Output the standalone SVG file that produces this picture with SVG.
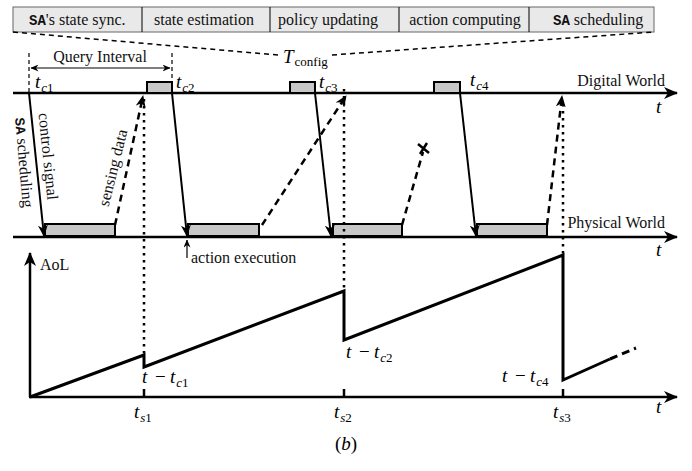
<svg xmlns="http://www.w3.org/2000/svg" width="692" height="471" viewBox="0 0 692 471">
<style>
.lbl{font-family:'Liberation Serif','DejaVu Serif',serif;font-size:16px;fill:#111}
.mono{font-family:'Liberation Mono','DejaVu Sans Mono',monospace;font-weight:bold;font-size:14px}
.m{font-family:'Liberation Serif','DejaVu Serif',serif;font-style:italic;font-size:19px;fill:#000}
.s{font-size:13px}
.u{font-style:normal}
.ln{stroke:#000;fill:none}
.axis{stroke-width:2.5}
.ctrl{stroke-width:2}
.sense{stroke-width:2.5;stroke-dasharray:7 5}
.dot{stroke-width:2.5;stroke-dasharray:2.5 4.5}
.thin{stroke-width:1.2}
.box{fill:#c8c8c8;stroke:#000;stroke-width:2}
.cell{fill:#e9e9e9;stroke:#666;stroke-width:1}
</style>
<defs>
<marker id="big" markerUnits="userSpaceOnUse" viewBox="0 0 14 12" markerWidth="14" markerHeight="12" refX="13" refY="6" orient="auto"><path d="M0,0 L14,6 L0,12 L4,6 z" fill="#000"/></marker>
<marker id="mid" markerUnits="userSpaceOnUse" viewBox="0 0 12 10" markerWidth="12" markerHeight="10" refX="11" refY="5" orient="auto"><path d="M0,0 L12,5 L0,10 L3.5,5 z" fill="#000"/></marker>
<marker id="sm" markerUnits="userSpaceOnUse" viewBox="0 0 8 7" markerWidth="8" markerHeight="7" refX="7.5" refY="3.5" orient="auto"><path d="M0,0 L8,3.5 L0,7 L2.5,3.5 z" fill="#000"/></marker>
<marker id="smS" markerUnits="userSpaceOnUse" viewBox="0 0 8 7" markerWidth="8" markerHeight="7" refX="0.5" refY="3.5" orient="auto"><path d="M8,0 L0,3.5 L8,7 L5.5,3.5 z" fill="#000"/></marker>
</defs>

<g id="pipeline">
<rect class="cell" x="13" y="7" width="641" height="25"/>
<line class="ln" stroke="#666" x1="142" y1="7" x2="142" y2="32"/>
<line class="ln" stroke="#666" x1="270" y1="7" x2="270" y2="32"/>
<line class="ln" stroke="#666" x1="399" y1="7" x2="399" y2="32"/>
<line class="ln" stroke="#666" x1="529" y1="7" x2="529" y2="32"/>
<text class="lbl" x="29" y="25"><tspan class="mono">SA</tspan>'s state sync.</text>
<text class="lbl" x="204" y="25" text-anchor="middle">state estimation</text>
<text class="lbl" x="328" y="25" text-anchor="middle">policy updating</text>
<text class="lbl" x="465" y="25" text-anchor="middle">action computing</text>
<text class="lbl" x="553" y="25"><tspan class="mono">SA</tspan> scheduling</text>
</g>

<g id="tconfig">
<line class="ln" stroke-width="1.5" stroke-dasharray="5 4" x1="13" y1="32" x2="278" y2="55"/>
<line class="ln" stroke-width="1.5" stroke-dasharray="5 4" x1="332" y1="55" x2="654" y2="32"/>
<text class="m" x="283" y="63">T<tspan class="s u" dy="3" dx="1">config</tspan></text>
</g>

<g id="query-interval">
<line class="ln thin" stroke-dasharray="4 3" x1="29" y1="53" x2="29" y2="92"/>
<line class="ln thin" stroke-dasharray="4 3" x1="172" y1="53" x2="172" y2="82"/>
<line class="ln thin" x1="31" y1="68" x2="170" y2="68" marker-start="url(#smS)" marker-end="url(#sm)"/>
<text class="lbl" x="100" y="62" text-anchor="middle">Query Interval</text>
</g>

<g id="digital-world">
<line class="ln axis" x1="13" y1="93" x2="677" y2="93" marker-end="url(#big)"/>
<rect class="box" x="147" y="82" width="25" height="11"/>
<rect class="box" x="290" y="82" width="25" height="11"/>
<rect class="box" x="434" y="82" width="26" height="11"/>
<text class="m" x="35" y="88">t<tspan class="s" dy="4" dx="1">c</tspan><tspan class="s u">1</tspan></text>
<text class="m" x="176" y="88">t<tspan class="s" dy="4" dx="1">c</tspan><tspan class="s u">2</tspan></text>
<text class="m" x="319" y="88">t<tspan class="s" dy="4" dx="1">c</tspan><tspan class="s u">3</tspan></text>
<text class="m" x="470" y="86">t<tspan class="s" dy="4" dx="1">c</tspan><tspan class="s u">4</tspan></text>
<text class="lbl" x="665" y="86" text-anchor="end">Digital World</text>
<text class="m" x="656" y="113">t</text>
</g>

<g id="physical-world">
<line class="ln axis" x1="13" y1="237" x2="677" y2="237" marker-end="url(#big)"/>
<rect class="box" x="45" y="224" width="70" height="12"/>
<rect class="box" x="188" y="224" width="71" height="12"/>
<rect class="box" x="333" y="224" width="69" height="12"/>
<rect class="box" x="477" y="224" width="70" height="12"/>
<text class="lbl" x="665" y="228" text-anchor="end">Physical World</text>
<text class="m" x="656" y="256">t</text>
<line class="ln thin" x1="187" y1="258" x2="187" y2="240" marker-end="url(#sm)"/>
<text class="lbl" x="191" y="263">action execution</text>
</g>

<g id="connectors">
<line class="ln ctrl" x1="29" y1="93" x2="44" y2="236" marker-end="url(#mid)"/>
<line class="ln ctrl" x1="172" y1="93" x2="187" y2="236" marker-end="url(#mid)"/>
<line class="ln ctrl" x1="315" y1="93" x2="331" y2="236" marker-end="url(#mid)"/>
<line class="ln ctrl" x1="460" y1="93" x2="476" y2="236" marker-end="url(#mid)"/>
<line class="ln sense" x1="115" y1="225" x2="143" y2="96" marker-end="url(#mid)"/>
<line class="ln sense" x1="262" y1="225" x2="346" y2="96" marker-end="url(#mid)"/>
<line class="ln sense" x1="402" y1="225" x2="423" y2="152"/>
<path class="ln" stroke-width="2.5" d="M418,144 L429,153 M420,154 L427,143"/>
<line class="ln sense" x1="547" y1="225" x2="562" y2="96" marker-end="url(#mid)"/>
<line class="ln dot" x1="144" y1="99" x2="144" y2="355"/>
<line class="ln dot" x1="344" y1="89" x2="344" y2="291"/>
<line class="ln dot" x1="563" y1="104" x2="563" y2="255"/>
</g>

<g id="side-labels">
<text class="lbl" transform="translate(19,163) rotate(85)" text-anchor="middle"><tspan class="mono">SA</tspan> scheduling</text>
<text class="lbl" transform="translate(43,157) rotate(84)" text-anchor="middle">control signal</text>
<text class="lbl" transform="translate(118,169) rotate(-76)" text-anchor="middle">sensing data</text>
</g>

<g id="aol-plot">
<line class="ln axis" x1="30" y1="397" x2="30" y2="253" marker-end="url(#big)"/>
<text class="lbl" x="40" y="270">AoL</text>
<line class="ln axis" x1="29" y1="397" x2="677" y2="397" marker-end="url(#big)"/>
<line class="ln" stroke-width="2.5" x1="144" y1="389" x2="144" y2="397"/>
<line class="ln" stroke-width="2.5" x1="344" y1="389" x2="344" y2="397"/>
<line class="ln" stroke-width="2.5" x1="563" y1="389" x2="563" y2="397"/>
<polyline class="ln" stroke-width="3" stroke-linejoin="miter" points="30,397 144,355 144,367 344,291 344,340 563,255 563,380 610,359"/>
<line class="ln" stroke-width="3" stroke-dasharray="8 5" x1="610" y1="359" x2="636" y2="348"/>
<text class="m" x="142" y="383">t<tspan class="u" x="155">−</tspan><tspan x="170">t</tspan><tspan class="s" dy="4" dx="1">c</tspan><tspan class="s u">1</tspan></text>
<text class="m" x="346" y="358">t<tspan class="u" x="359">−</tspan><tspan x="374">t</tspan><tspan class="s" dy="4" dx="1">c</tspan><tspan class="s u">2</tspan></text>
<text class="m" x="502" y="382">t<tspan class="u" x="515">−</tspan><tspan x="530">t</tspan><tspan class="s" dy="4" dx="1">c</tspan><tspan class="s u">4</tspan></text>
<text class="m" x="134" y="418">t<tspan class="s" dy="4" dx="1">s</tspan><tspan class="s u">1</tspan></text>
<text class="m" x="334" y="418">t<tspan class="s" dy="4" dx="1">s</tspan><tspan class="s u">2</tspan></text>
<text class="m" x="553" y="418">t<tspan class="s" dy="4" dx="1">s</tspan><tspan class="s u">3</tspan></text>
<text class="m" x="656" y="413">t</text>
</g>

<text class="m" x="346" y="450" text-anchor="middle"><tspan class="u">(</tspan>b<tspan class="u">)</tspan></text>
</svg>
